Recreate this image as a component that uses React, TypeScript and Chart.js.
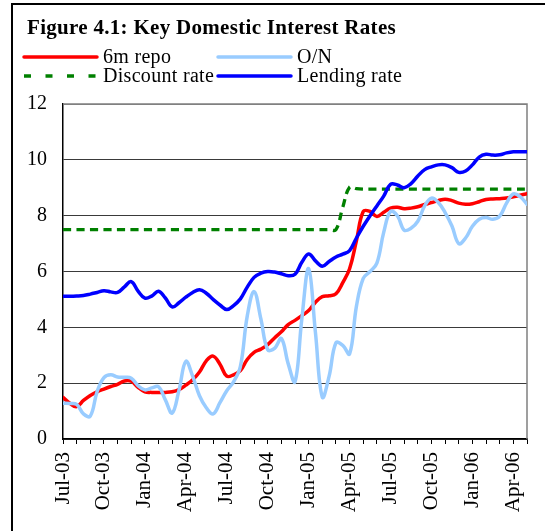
import React, { useEffect, useRef } from 'react';
import { Chart, registerables } from 'chart.js';

Chart.register(...registerables);

// Quarterly tick labels (axis runs monthly from Jul-03 to May-06)
const tickLabels = ['Jul-03', 'Oct-03', 'Jan-04', 'Apr-04', 'Jul-04', 'Oct-04', 'Jan-05', 'Apr-05', 'Jul-05', 'Oct-05', 'Jan-06', 'Apr-06'];
const lastMonthIndex = 34;

// Values read at half-month intervals starting Jul-03
const repoRate = [
  1.49, 1.28, 1.16, 1.38, 1.56, 1.69, 1.79, 1.88, 1.96, 2.08,
  2.07, 1.85, 1.69, 1.67, 1.67, 1.67, 1.69, 1.77, 1.93, 2.12,
  2.4, 2.8, 2.97, 2.68, 2.25, 2.3, 2.45, 2.85, 3.1, 3.22,
  3.38, 3.62, 3.84, 4.1, 4.25, 4.42, 4.6, 4.9, 5.1, 5.13,
  5.2, 5.6, 6.1, 7.1, 8.15, 8.15, 7.97, 8.12, 8.27, 8.3,
  8.25, 8.27, 8.32, 8.4, 8.47, 8.54, 8.59, 8.54, 8.45, 8.41,
  8.43, 8.5, 8.58, 8.6, 8.61, 8.63, 8.68, 8.73, 8.79,
];

const overnightRate = [
  1.28, 1.27, 1.24, 0.9, 0.82, 1.7, 2.2, 2.3, 2.22, 2.21,
  2.18, 1.91, 1.76, 1.83, 1.87, 1.4, 0.93, 1.75, 2.78, 2.25,
  1.55, 1.12, 0.9, 1.3, 1.73, 2.05, 2.6, 4.4, 5.28, 4.3,
  3.2, 3.25, 3.6, 2.7, 2.05, 4.3, 6.1, 3.8, 1.5, 2.25,
  3.45, 3.35, 3.05, 4.75, 5.75, 6.0, 6.3, 7.4, 8.15, 8.0,
  7.48, 7.55, 7.8, 8.35, 8.63, 8.47, 8.11, 7.63, 7.0, 7.2,
  7.62, 7.87, 7.93, 7.87, 7.98, 8.45, 8.78, 8.68, 8.41,
];

const discountRate = [
  7.5, 7.5, 7.5, 7.5, 7.5, 7.5, 7.5, 7.5, 7.5, 7.5,
  7.5, 7.5, 7.5, 7.5, 7.5, 7.5, 7.5, 7.5, 7.5, 7.5,
  7.5, 7.5, 7.5, 7.5, 7.5, 7.5, 7.5, 7.5, 7.5, 7.5,
  7.5, 7.5, 7.5, 7.5, 7.5, 7.5, 7.5, 7.5, 7.5, 7.5,
  7.5, 8.3, 9.02, 8.97, 8.95, 8.95, 8.95, 8.95, 8.95, 8.95,
  8.95, 8.95, 8.95, 8.95, 8.95, 8.95, 8.95, 8.95, 8.95, 8.95,
  8.95, 8.95, 8.95, 8.95, 8.95, 8.95, 8.95, 8.95, 8.95,
];

const lendingRate = [
  5.11, 5.11, 5.12, 5.14, 5.19, 5.25, 5.31, 5.27, 5.25, 5.45,
  5.64, 5.3, 5.05, 5.12, 5.29, 5.05, 4.73, 4.88, 5.08, 5.25,
  5.35, 5.22, 5.0, 4.8, 4.64, 4.78, 5.02, 5.44, 5.79, 5.94,
  6.0, 5.98, 5.92, 5.85, 5.9, 6.33, 6.63, 6.38, 6.19, 6.36,
  6.52, 6.62, 6.75, 7.2, 7.62, 8.0, 8.35, 8.7, 9.12, 9.1,
  9.0, 9.15, 9.42, 9.65, 9.75, 9.82, 9.82, 9.72, 9.55, 9.6,
  9.82, 10.1, 10.2, 10.17, 10.18, 10.25, 10.29, 10.29, 10.29,
];

const seriesNames = ['6m repo', 'O/N', 'Discount rate', 'Lending rate'];
const seriesColors = ['#FF0000', '#99CCFF', '#008000', '#0000FF'];

const SERIF = "'Liberation Serif', 'Times New Roman', serif";

function toPoints(values: number[]) {
  return values.map((v, k) => ({ x: k / 2, y: v }));
}

const plotFrame = {
  id: 'plotFrame',
  beforeDatasetsDraw(chart: any) {
    const { ctx, chartArea: a } = chart;
    ctx.save();
    ctx.strokeStyle = '#808080';
    ctx.lineWidth = 1.5;
    ctx.beginPath();
    ctx.moveTo(a.left, a.top);
    ctx.lineTo(a.right, a.top);
    ctx.lineTo(a.right, a.bottom);
    ctx.stroke();
    ctx.restore();
  },
};

function LegendItem(props: { x: number; y: number; color: string; dash?: string; label: string }) {
  const { x, y, color, dash, label } = props;
  return (
    <>
      <svg style={{ position: 'absolute', left: x, top: y - 6, width: 76, height: 12, overflow: 'visible' }}>
        <line x1={1} y1={6} x2={74} y2={6} stroke={color} strokeWidth={3.5} strokeDasharray={dash} strokeLinecap={dash ? 'butt' : 'round'} />
      </svg>
      <div
        style={{
          position: 'absolute',
          left: x + 80,
          top: y - 11,
          fontFamily: SERIF,
          fontSize: 20,
          lineHeight: '20px',
          letterSpacing: '0.3px',
          whiteSpace: 'nowrap',
          color: '#000',
        }}
      >
        {label}
      </div>
    </>
  );
}

export default function App() {
  const canvasRef = useRef<HTMLCanvasElement | null>(null);

  useEffect(() => {
    if (!canvasRef.current) return;
    const font = { family: SERIF, size: 20 };
    const chart = new Chart(canvasRef.current, {
      type: 'line',
      data: {
        datasets: [
          { label: seriesNames[0], data: toPoints(repoRate), borderColor: seriesColors[0], borderWidth: 3.5, order: 3 },
          { label: seriesNames[1], data: toPoints(overnightRate), borderColor: seriesColors[1], borderWidth: 3.5, order: 2 },
          { label: seriesNames[2], data: toPoints(discountRate), borderColor: seriesColors[2], borderWidth: 3.3, borderDash: [8, 5.5], order: 1, borderCapStyle: 'butt' },
          { label: seriesNames[3], data: toPoints(lendingRate), borderColor: seriesColors[3], borderWidth: 3.5, order: 0 },
        ],
      },
      options: {
        animation: false,
        responsive: false,
        devicePixelRatio: 1,
        layout: { padding: { top: 104, right: 18, left: 0, bottom: 0 } },
        plugins: {
          legend: { display: false },
          title: { display: false },
          tooltip: { enabled: false },
        },
        elements: {
          point: { radius: 0, hoverRadius: 0 },
          line: { tension: 0.4, borderCapStyle: 'round', borderJoinStyle: 'round', fill: false },
        },
        scales: {
          x: {
            type: 'linear',
            min: 0,
            max: lastMonthIndex,
            afterFit: (s: any) => {
              s.height = 92;
              s.paddingLeft = 0;
              s.paddingRight = 0;
            },
            grid: { drawOnChartArea: false, drawTicks: true, tickLength: 5, tickColor: '#000', tickWidth: 1 },
            border: { display: true, color: '#000', width: 1.5 },
            ticks: {
              stepSize: 1,
              autoSkip: false,
              minRotation: 90,
              maxRotation: 90,
              padding: 8,
              color: '#000',
              font: { family: SERIF, size: 21 },
              callback: (v: any) => {
                const n = Number(v);
                return n % 3 === 0 ? tickLabels[n / 3] ?? '' : '';
              },
            },
          },
          y: {
            min: 0,
            max: 12,
            afterFit: (s: any) => {
              s.width = 63;
            },
            grid: {
              drawTicks: false,
              lineWidth: 1,
              color: (c: any) => (c.tick && c.tick.value === 12 ? '#808080' : '#3a3a3a'),
            },
            border: { display: true, color: '#000', width: 1.5 },
            ticks: { stepSize: 2, padding: 16, color: '#000', font },
          },
        },
      },
      plugins: [plotFrame],
    } as any);
    return () => chart.destroy();
  }, []);

  return (
    <div style={{ position: 'absolute', left: 0, top: 0, width: 545, height: 531, overflow: 'hidden', background: '#fff' }}>
      <div
        style={{
          position: 'absolute',
          left: 11,
          top: 3,
          width: 700,
          height: 700,
          borderLeft: '2px solid #000',
          borderTop: '2px solid #000',
        }}
      />
      <canvas ref={canvasRef} width={545} height={531} style={{ position: 'absolute', left: 0, top: 0, width: 545, height: 531 }} />
      <div
        style={{
          position: 'absolute',
          left: 27,
          top: 17,
          fontFamily: SERIF,
          fontWeight: 'bold',
          fontSize: 21,
          lineHeight: '21px',
          letterSpacing: '0.3px',
          whiteSpace: 'nowrap',
          color: '#000',
        }}
      >
        Figure 4.1: Key Domestic Interest Rates
      </div>
      <LegendItem x={23} y={57} color={seriesColors[0]} label={seriesNames[0]} />
      <LegendItem x={217} y={57} color={seriesColors[1]} label={seriesNames[1]} />
      <LegendItem x={23} y={75.5} color={seriesColors[2]} dash="7 14.5" label={seriesNames[2]} />
      <LegendItem x={217} y={75.5} color={seriesColors[3]} label={seriesNames[3]} />
    </div>
  );
}
